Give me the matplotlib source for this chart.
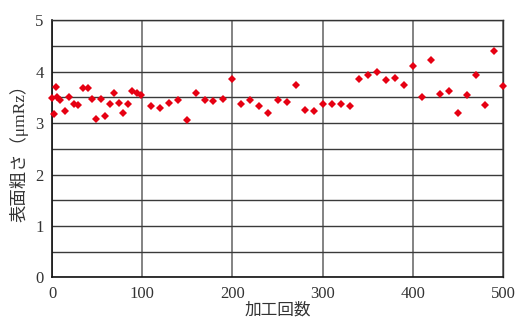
import matplotlib
matplotlib.use("Agg")
import matplotlib.pyplot as plt
from matplotlib.ticker import MultipleLocator

# 加工回数 vs 表面粗さ
counts = [0, 2, 4, 6, 9, 14, 19, 24, 29, 34, 40, 44, 49, 54, 59, 64, 69, 74, 79, 84,
          89, 94, 99, 110, 120, 130, 140, 150, 160, 170, 179, 190, 200, 210, 220, 230,
          240, 250, 260, 270, 280, 290, 300, 310, 320, 330, 340, 350, 360, 370, 380,
          390, 400, 410, 420, 430, 440, 450, 460, 470, 480, 490, 500]
roughness = [3.49, 3.17, 3.71, 3.51, 3.44, 3.24, 3.50, 3.37, 3.36, 3.68, 3.68, 3.46,
             3.08, 3.47, 3.14, 3.38, 3.59, 3.40, 3.19, 3.37, 3.63, 3.59, 3.55, 3.33,
             3.29, 3.40, 3.45, 3.06, 3.59, 3.44, 3.43, 3.46, 3.86, 3.37, 3.44, 3.33,
             3.20, 3.45, 3.42, 3.74, 3.26, 3.23, 3.37, 3.37, 3.37, 3.33, 3.86, 3.94,
             3.99, 3.84, 3.88, 3.74, 4.11, 3.50, 4.22, 3.57, 3.62, 3.19, 3.55, 3.94,
             3.35, 4.40, 3.72]

fig = plt.figure(figsize=(5.19, 3.2), dpi=100)
ax = fig.add_axes([0.1002, 0.1334, 0.8690, 0.8032])

ax.plot(counts, roughness, linestyle="none", marker="D", markersize=4,
        color="#e60012", markeredgewidth=0, zorder=3, clip_on=False)

ax.set_xlim(0, 500)
ax.set_ylim(0, 5)
ax.xaxis.set_major_locator(MultipleLocator(100))
ax.yaxis.set_major_locator(MultipleLocator(1))
ax.yaxis.set_minor_locator(MultipleLocator(0.5))

ax.grid(axis="y", which="both", color="#3a3a3a", linewidth=1.0)
ax.grid(axis="x", which="major", color="#6e6e6e", linewidth=1.2)
ax.set_axisbelow(True)

ax.tick_params(which="both", length=0, pad=6, labelsize=12)
for lab in ax.get_xticklabels() + ax.get_yticklabels():
    lab.set_family("Liberation Serif")
    lab.set_color("#333333")

for side in ["left", "bottom"]:
    ax.spines[side].set_color("#111111")
    ax.spines[side].set_linewidth(1.2)
for side in ["top", "right"]:
    ax.spines[side].set_color("#333333")
    ax.spines[side].set_linewidth(1.0)

ax.set_xlabel("加工回数", family=["Noto Sans CJK JP"], fontsize=12,
              color="#333333", labelpad=0)
ax.set_ylabel("表面粗さ（μmRz）", family=["Liberation Serif", "Noto Sans CJK JP"],
              fontsize=12.5, color="#333333", labelpad=5)

fig.savefig("out.png", dpi=100)
